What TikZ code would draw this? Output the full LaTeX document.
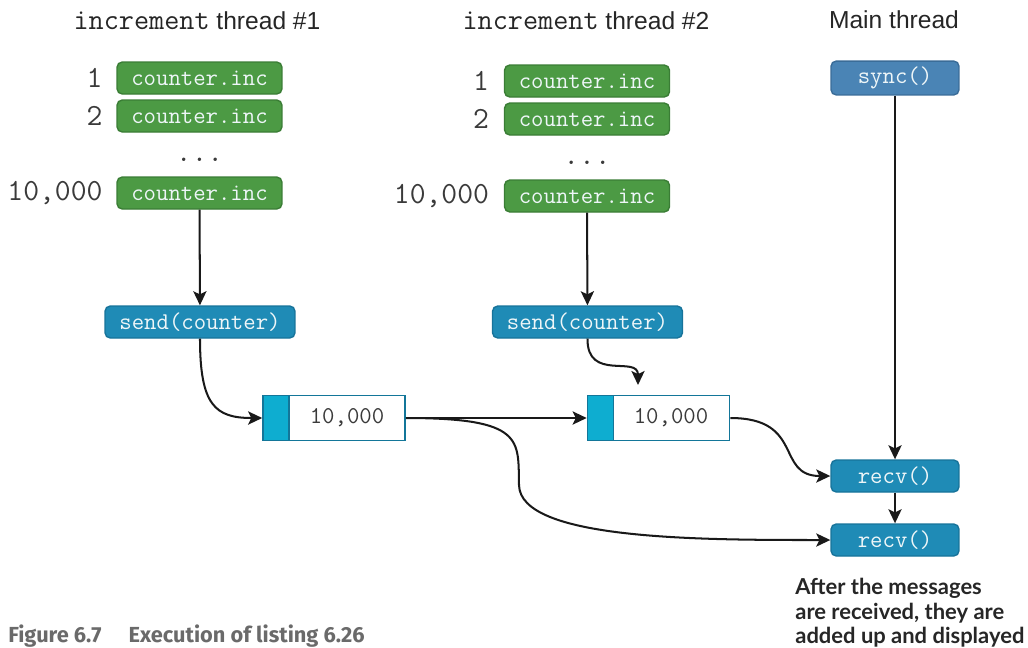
\documentclass[tikz,border=0pt]{standalone}
\usepackage{fontspec}
\setmainfont{Liberation Sans}
\newfontfamily\notefont{Lato}
\newfontfamily\capfont{Fira Sans}
\usetikzlibrary{arrows.meta,positioning}
\definecolor{IncGreen}   {HTML}{4C9A44}
\definecolor{IncEdge}    {HTML}{3A7D35}
\definecolor{SendBlue}   {HTML}{1F8BB6}
\definecolor{SendEdge}   {HTML}{17739A}
\definecolor{SyncBlue}   {HTML}{4A84B5}
\definecolor{SyncEdge}   {HTML}{3A6C98}
\definecolor{QueueCyan}  {HTML}{0EADD0}
\definecolor{QueueEdge}  {HTML}{137699}
\definecolor{BoxText}    {HTML}{EEF6F8}
\definecolor{InkGray}    {HTML}{3A3A3A}
\definecolor{CapGray}    {HTML}{6A6A6A}
\tikzset{
  callbox/.style={rectangle,rounded corners=3pt,line width=0.8pt,minimum height=0.64cm,
                  font=\fontsize{13.7}{14}\selectfont\ttfamily\color{BoxText}},
  incbox/.style={callbox,fill=IncGreen,draw=IncEdge,minimum width=3.3cm},
  sendbox/.style={callbox,fill=SendBlue,draw=SendEdge,minimum width=3.8cm},
  recvbox/.style={callbox,fill=SendBlue,draw=SendEdge,minimum width=2.56cm},
  syncbox/.style={callbox,fill=SyncBlue,draw=SyncEdge,minimum width=2.56cm},
  msgcell/.style={rectangle,draw=QueueEdge,fill=white,line width=0.9pt,
                  minimum width=2.84cm,minimum height=0.9cm},
  msgtab/.style={rectangle,draw=QueueEdge,fill=QueueCyan,line width=0.9pt,
                 minimum width=0.52cm,minimum height=0.9cm,anchor=west},
  msgtext/.style={font=\fontsize{13.7}{14}\selectfont\ttfamily\color{InkGray}},
  idx/.style={font=\fontsize{17.5}{18}\selectfont\ttfamily\color{InkGray},inner sep=2pt},
  head/.style={font=\fontsize{14}{15}\selectfont\color{black!85}},
  arr/.style={-{Stealth[length=8pt,width=7.5pt,inset=1.8pt]},line width=1.15pt,color=black!90},
}

\begin{document}
\begin{tikzpicture}[x=0.02cm,y=-0.02cm]
  \useasboundingbox (0,0) rectangle (1028,647);

  % column headings
  \node[head] (head1) at (197,21) {{\fontsize{16.7}{17}\selectfont\ttfamily increment} thread \#1};
  \node[head] (head2) at (586,21) {{\fontsize{16.7}{17}\selectfont\ttfamily increment} thread \#2};
  \node[head] (head3) at (894,20) {Main thread};

  % increment thread #1
  \node[incbox] (incA1) at (199.5,78)  {counter.inc};
  \node[incbox] (incA2) at (199.5,116) {counter.inc};
  \node[incbox] (incAn) at (199.5,193) {counter.inc};
  \node[idx,left=0.2cm of incA1] (idxA1) {1};
  \node[idx,left=0.2cm of incA2] (idxA2) {2};
  \node[idx,left=0.2cm of incAn] (idxAn) {10,000};
  \node[idx] (dotsA) at (199.5,160) {...};

  % increment thread #2
  \node[incbox] (incB1) at (587,81)  {counter.inc};
  \node[incbox] (incB2) at (587,119) {counter.inc};
  \node[incbox] (incBn) at (587,196) {counter.inc};
  \node[idx,left=0.22cm of incB1] (idxB1) {1};
  \node[idx,left=0.22cm of incB2] (idxB2) {2};
  \node[idx,left=0.22cm of incBn] (idxBn) {10,000};
  \node[idx] (dotsB) at (587,163) {...};

  % sends
  \node[sendbox] (sendA) at (200,322)   {send(counter)};
  \node[sendbox] (sendB) at (587.5,322) {send(counter)};

  % message cells
  \node[msgcell] (msgA) at (334,418) {};
  \node[msgtab]  (tabA) at (msgA.west) {};
  \node[msgtext] (valA) at (347,418) {10,000};
  \node[msgcell] (msgB) at (658.5,418) {};
  \node[msgtab]  (tabB) at (msgB.west) {};
  \node[msgtext] (valB) at (671,418) {10,000};
  \coordinate (dropB) at (638,385);

  % main thread
  \node[syncbox] (sync)  at (895,78)  {sync()};
  \node[recvbox] (recv1) at (895,476) {recv()};
  \node[recvbox] (recv2) at (895,540) {recv()};

  \draw[arr] (incAn) -- (sendA);
  \draw[arr] (incBn) -- (sendB);
  \draw[arr] (sendA.south) .. controls (200,405) and (215,418) .. (msgA.west);
  \draw[arr] (sendB.south) .. controls (587,382) and (638,355) .. (dropB);
  \draw[arr] (msgA.east) -- (msgB.west);
  \draw[arr] (msgA.east) .. controls (525,418) and (518,440) .. (519,485)
             .. controls (520,540) and (700,540) .. (recv2.west);
  \draw[arr] (msgB.east) .. controls (805,418) and (775,476) .. (recv1.west);
  \draw[arr] (sync) -- (recv1);
  \draw[arr] (recv1) -- (recv2);

  % notes
  \node[anchor=north west,align=left,inner sep=0pt,
        font=\notefont\fontsize{12.5}{14}\selectfont\bfseries\color{black!85}]
    (note) at (795,578) {After the messages\\are received, they are\\added up and displayed};
  \node[anchor=base west,inner sep=0pt,
        font=\capfont\fontsize{12.4}{14}\selectfont\bfseries\color{CapGray}]
    (caption) at (8,642) {Figure 6.7\quad\ Execution of listing 6.26};
\end{tikzpicture}
\end{document}
